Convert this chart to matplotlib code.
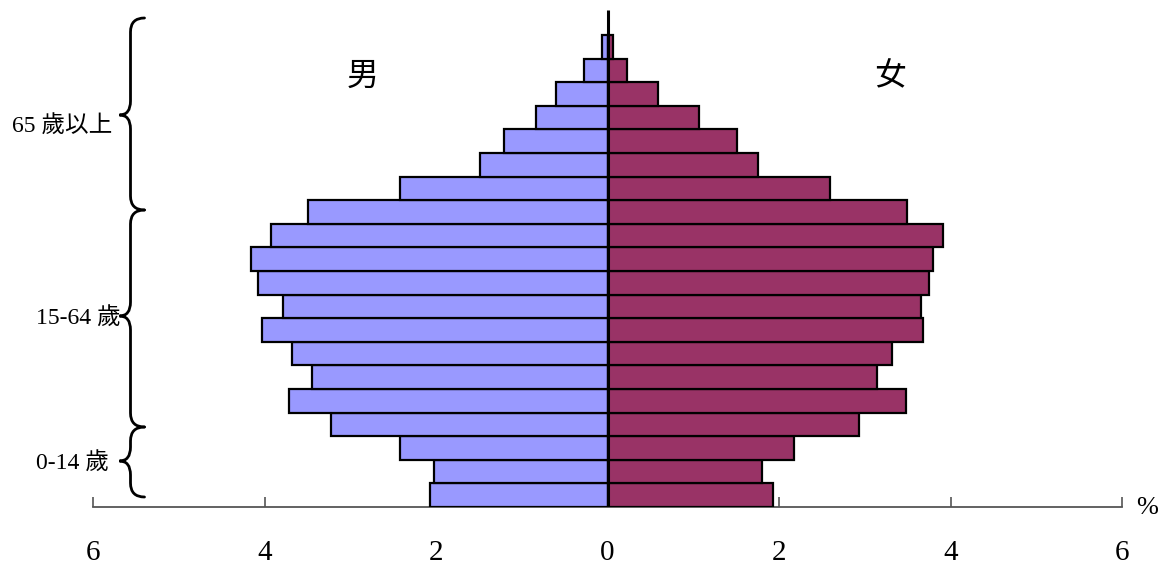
import numpy as np
import matplotlib
matplotlib.use("Agg")
import matplotlib.pyplot as plt
from matplotlib.path import Path
from matplotlib.patches import PathPatch

# Age groups 0-4 ... 95+ (bottom to top), percent of population
age_groups = ["0-4", "5-9", "10-14", "15-19", "20-24", "25-29", "30-34", "35-39",
              "40-44", "45-49", "50-54", "55-59", "60-64", "65-69", "70-74",
              "75-79", "80-84", "85-89", "90-94", "95+"]
male = [2.07, 2.02, 2.42, 3.22, 3.72, 3.45, 3.68, 4.03, 3.78, 4.08,
        4.16, 3.93, 3.49, 2.42, 1.49, 1.21, 0.83, 0.60, 0.27, 0.06]
female = [1.93, 1.80, 2.17, 2.93, 3.48, 3.14, 3.32, 3.68, 3.66, 3.75,
          3.80, 3.91, 3.49, 2.59, 1.76, 1.51, 1.07, 0.59, 0.23, 0.06]
tick_values = [-6, -4, -2, 0, 2, 4, 6]
tick_labels = ["6", "4", "2", "0", "2", "4", "6"]
group_labels = ["65 歲以上", "15-64 歲", "0-14 歲"]

FAM = ["Liberation Serif", "Noto Sans CJK TC"]

W, H = 1163, 568
fig = plt.figure(figsize=(W / 100, H / 100), dpi=100)
ax_left_px, ax_right_px = 93, 1122
ax_bot_px, ax_top_px = 507, 5
ax = fig.add_axes([ax_left_px / W, (H - ax_bot_px) / H,
                   (ax_right_px - ax_left_px) / W, (ax_bot_px - ax_top_px) / H])
band_px = 23.6
ytop = (ax_bot_px - ax_top_px) / band_px - 0.5
ax.set_xlim(-6, 6)
ax.set_ylim(-0.5, ytop)

y = np.arange(len(age_groups))
ax.barh(y, [-m for m in male], height=1.0, color="#9999FF", edgecolor="black",
        linewidth=1.6, zorder=3)
ax.barh(y, female, height=1.0, color="#993366", edgecolor="black",
        linewidth=1.6, zorder=3)
ax.plot([0, 0], [-0.5, 20.55], color="black", lw=2.2, zorder=4,
        solid_capstyle="butt")

for s in ["top", "left", "right"]:
    ax.spines[s].set_visible(False)
ax.spines["bottom"].set_color("#555555")
ax.spines["bottom"].set_linewidth(1.3)
ax.set_yticks([])
ax.set_xticks(tick_values)
ax.set_xticklabels(tick_labels, fontfamily="Liberation Serif", fontsize=21)
ax.tick_params(axis="x", direction="in", length=7, width=1.2, color="#555555",
               pad=24)

def px2x(px):
    return (px - 608) / 85.75

def py2y(py):
    return (ax_bot_px - py) / band_px - 0.5

def brace(ytop_px, ybot_px, ytip_px, x_end_px=145, x_stem_px=131, x_tip_px=120, r_px=14):
    xe, xs, xt = px2x(x_end_px), px2x(x_stem_px), px2x(x_tip_px)
    yt, yb, ym = py2y(ytop_px), py2y(ybot_px), py2y(ytip_px)
    r = r_px / band_px
    verts = [(xe, yt), (xs, yt), (xs, yt - r),
             (xs, ym + r),
             (xs, ym), (xt, ym),
             (xs, ym), (xs, ym - r),
             (xs, yb + r),
             (xs, yb), (xe, yb)]
    codes = [Path.MOVETO, Path.CURVE3, Path.CURVE3,
             Path.LINETO,
             Path.CURVE3, Path.CURVE3,
             Path.CURVE3, Path.CURVE3,
             Path.LINETO,
             Path.CURVE3, Path.CURVE3]
    p = PathPatch(Path(verts, codes), fill=False, lw=2.0, edgecolor="black",
                  clip_on=False, capstyle="round")
    ax.add_patch(p)

brace(18, 210, 115)
brace(210, 427, 316)
brace(427, 497, 461)

ax.text(px2x(113), py2y(126), group_labels[0], ha="right", va="center",
        fontsize=17, family=FAM, clip_on=False)
ax.text(px2x(121), py2y(318), group_labels[1], ha="right", va="center",
        fontsize=17, family=FAM, clip_on=False)
ax.text(px2x(109), py2y(463), group_labels[2], ha="right", va="center",
        fontsize=17, family=FAM, clip_on=False)

ax.text(px2x(363), py2y(77), "男", ha="center", va="center", fontsize=23,
        family=FAM)
ax.text(px2x(891), py2y(77), "女", ha="center", va="center", fontsize=23,
        family=FAM)
ax.text(px2x(1148), py2y(508), "%", ha="center", va="center", fontsize=19,
        family=FAM, clip_on=False)

fig.savefig("out.png", dpi=100, facecolor="white")
